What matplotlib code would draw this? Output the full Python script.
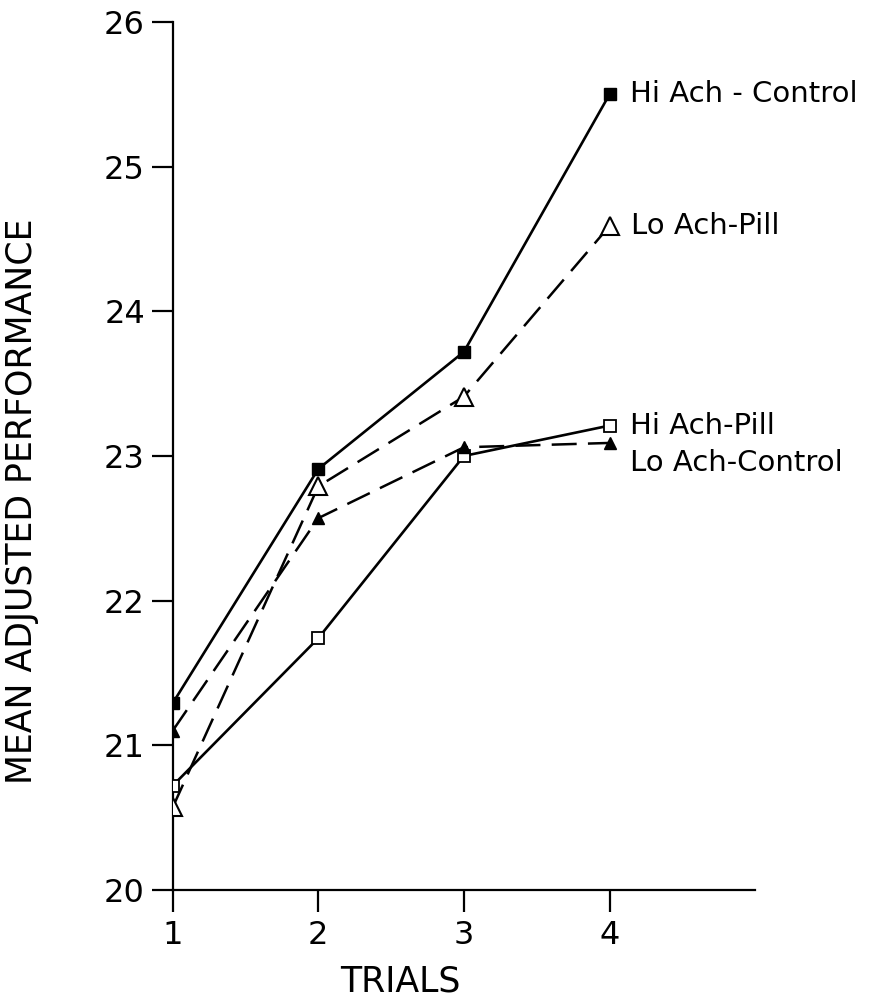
import matplotlib
matplotlib.use("Agg")
import matplotlib.pyplot as plt

trials = [1, 2, 3, 4]
hi_ach_control = [21.29, 22.91, 23.72, 25.50]
lo_ach_pill = [20.57, 22.79, 23.41, 24.59]
hi_ach_pill = [20.72, 21.74, 23.00, 23.21]
lo_ach_control = [21.10, 22.57, 23.06, 23.09]

y_ticks = [20, 21, 22, 23, 24, 25, 26]
x_ticks = [1, 2, 3, 4]
x_ticklabels = ["1", "2", "3", "4"]

FONT = "DejaVu Sans"
INK = "black"

fig = plt.figure(figsize=(8.72, 10.01), dpi=100)
ax = fig.add_axes([0.198, 0.111, 0.668, 0.867])

dash = (0, (10, 4.5))
ax.plot(trials, hi_ach_control, color=INK, lw=1.9, ls="-",
        marker="s", ms=8, mfc=INK, mec=INK, zorder=3)
ax.plot(trials, lo_ach_pill, color=INK, lw=1.8, ls=dash,
        marker="^", ms=13, mfc="white", mec=INK, mew=1.5, zorder=3)
ax.plot(trials, hi_ach_pill, color=INK, lw=1.9, ls="-",
        marker="s", ms=8, mfc="white", mec=INK, mew=1.3, zorder=3)
ax.plot(trials, lo_ach_control, color=INK, lw=1.8, ls=dash,
        marker="^", ms=9, mfc=INK, mec=INK, zorder=3)

# series labels at the right end
lab_kw = dict(fontsize=21, family=FONT, ha="left", va="center")
ax.text(4.14, hi_ach_control[-1], "Hi Ach - Control", **lab_kw)
ax.text(4.15, lo_ach_pill[-1], "Lo Ach-Pill", **lab_kw)
ax.text(4.14, hi_ach_pill[-1], "Hi Ach-Pill", **lab_kw)
ax.text(4.14, hi_ach_pill[-1] - 0.26, "Lo Ach-Control", **lab_kw)

ax.set_xlim(1, 5)
ax.set_ylim(20, 26)
ax.set_xticks(x_ticks)
ax.set_xticklabels(x_ticklabels)
ax.set_yticks(y_ticks)
ax.spines["top"].set_visible(False)
ax.spines["right"].set_visible(False)
for s in ("left", "bottom"):
    ax.spines[s].set_linewidth(1.6)
ax.tick_params(axis="x", direction="out", length=16, width=1.6, pad=6)
ax.tick_params(axis="y", direction="out", length=15, width=1.6, pad=5)
for lbl in ax.get_xticklabels() + ax.get_yticklabels():
    lbl.set_fontsize(23)
    lbl.set_family(FONT)

fig.text(400 / 872, 1 - 982 / 1001, "TRIALS", fontsize=25, family=FONT,
         ha="center", va="center")
fig.text(22 / 872, 1 - 501 / 1001, "MEAN ADJUSTED PERFORMANCE", fontsize=25,
         family=FONT, ha="center", va="center", rotation=90)

fig.savefig("out.png", dpi=100, facecolor="white")
